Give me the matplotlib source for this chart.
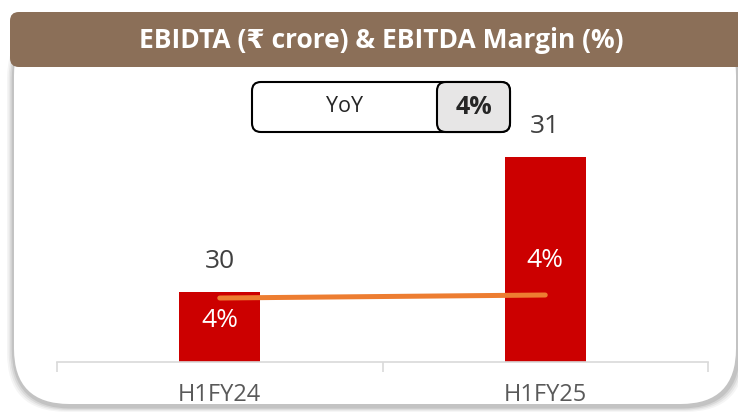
import matplotlib.pyplot as plt
from matplotlib.patches import FancyBboxPatch
import numpy as np

# data
periods = ['H1FY24', 'H1FY25']
ebitda = [30, 31]            # ₹ crore
margin = [4.0, 4.1]          # %
ebitda_labels = ['30', '31']
margin_labels = ['4%', '4%']
yoy_text = 'YoY'
yoy_value = '4%'

W, H = 738, 412
fig = plt.figure(figsize=(W / 100, H / 100), dpi=100)
fig.patch.set_facecolor('white')

def fx(px):
    return px / W

def fy(py):
    return 1 - py / H

# panel with soft shadow (top hidden behind the banner)
for i, a in enumerate([0.04, 0.05, 0.07, 0.09]):
    g = 7 - i * 1.6
    fig.patches.append(FancyBboxPatch(
        (fx(14 - g), fy(407 + g * 0.7)), fx(724 + 2 * g), fy(20) - fy(407 + g * 0.7),
        boxstyle='round,pad=0,rounding_size=0.08', transform=fig.transFigure,
        facecolor='black', edgecolor='none', alpha=a, zorder=0, mutation_aspect=W / H))
fig.patches.append(FancyBboxPatch(
    (fx(14), fy(404)), fx(722), fy(20) - fy(404),
    boxstyle='round,pad=0,rounding_size=0.075', transform=fig.transFigure,
    facecolor='white', edgecolor='none', zorder=1, mutation_aspect=W / H))

# title banner
fig.patches.append(FancyBboxPatch(
    (fx(10), fy(67)), fx(740), fy(12) - fy(67),
    boxstyle='round,pad=0,rounding_size=0.012', transform=fig.transFigure,
    facecolor='#8B6F58', edgecolor='none', zorder=2, mutation_aspect=W / H))
fig.text(fx(381), fy(41), 'EBIDTA (₹ crore) & EBITDA Margin (%)',
         ha='center', va='center', color='white', fontsize=19, fontweight='bold',
         family=['Open Sans', 'DejaVu Sans'], zorder=3)

# main axes
ax = fig.add_axes([fx(57), fy(362), fx(651), fy(100) - fy(362)], zorder=5)
ax.patch.set_alpha(0)
x = np.arange(len(periods))
bars = ax.bar(x, ebitda, width=0.25, color='#CC0000', zorder=2)
ax.set_xlim(-0.5, 1.5)
ax.set_ylim(29.48, 29.48 + 262 / 135)
for s in ['top', 'right', 'left']:
    ax.spines[s].set_visible(False)
ax.spines['bottom'].set_color('#D9D9D9')
ax.spines['bottom'].set_linewidth(1.2)
ax.set_yticks([])
ax.set_xticks(x)
ax.set_xticklabels(periods, fontsize=17, color='#595959', family='Open Sans')
ax.tick_params(axis='x', which='major', length=0, pad=15)
ax.set_xticks([-0.5, 0.5, 1.5], minor=True)
ax.tick_params(axis='x', which='minor', length=7, color='#D9D9D9', width=1.2)

for b, lab in zip(bars, ebitda_labels):
    ax.annotate(lab, (b.get_x() + b.get_width() / 2, b.get_height()),
                xytext=(0, 22), textcoords='offset points', ha='center', va='center',
                fontsize=19, color='#404040', family='Open Sans')

# margin line on secondary axis
ax2 = ax.twinx()
ax2.set_ylim(1.867, 1.867 + 262 / 30)
ax2.axis('off')
ax2.plot(x, margin, color='#ED7D31', lw=3.6, solid_capstyle='round', zorder=3)
offsets = [(0, -16), (0, 25)]
for xi, m, lab, off in zip(x, margin, margin_labels, offsets):
    ax2.annotate(lab, (xi, m), xytext=off, textcoords='offset points',
                 ha='center', va='center', fontsize=19, color='white', family='Open Sans')

# YoY box
fig.patches.append(FancyBboxPatch(
    (fx(252), fy(132)), fx(258), fy(82) - fy(132),
    boxstyle='round,pad=0,rounding_size=0.012', transform=fig.transFigure,
    facecolor='white', edgecolor='black', lw=1.5, zorder=6, mutation_aspect=W / H))
fig.patches.append(FancyBboxPatch(
    (fx(437), fy(132)), fx(73), fy(82) - fy(132),
    boxstyle='round,pad=0,rounding_size=0.012', transform=fig.transFigure,
    facecolor='#E7E6E6', edgecolor='black', lw=1.5, zorder=7, mutation_aspect=W / H))
fig.text(fx(344), fy(107), yoy_text, ha='center', va='center', fontsize=15.5,
         color='#262626', family='Open Sans', zorder=8)
fig.text(fx(474), fy(107), yoy_value, ha='center', va='center', fontsize=18,
         fontweight='bold', color='#262626', family='Open Sans', zorder=8)

fig.savefig('out.png', dpi=100)
